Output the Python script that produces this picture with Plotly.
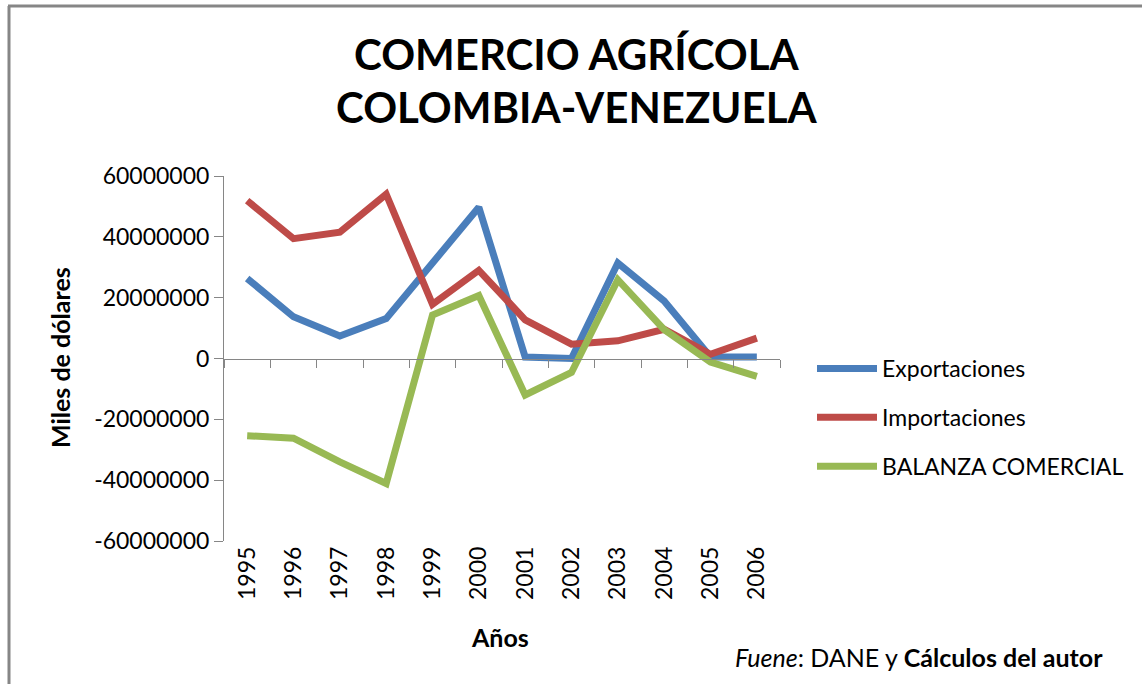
import plotly.graph_objects as go

years = ["1995", "1996", "1997", "1998", "1999", "2000", "2001", "2002", "2003", "2004", "2005", "2006"]
exportaciones = [26300000, 13700000, 7400000, 13100000, 31400000, 49700000, 500000, 0, 31400000, 18900000, 500000, 500000]
importaciones = [51900000, 39400000, 41500000, 54000000, 17800000, 29000000, 12700000, 4700000, 5800000, 9600000, 1400000, 6700000]
balanza = [-25400000, -26200000, -34000000, -41100000, 14300000, 20700000, -12000000, -4600000, 25900000, 9500000, -1200000, -5900000]
yticks = [-60000000, -40000000, -20000000, 0, 20000000, 40000000, 60000000]

FONT = "Lato"
AXC = "#868686"

fig = go.Figure()
series = [
    ("Exportaciones", exportaciones, "#4A7EBB"),
    ("Importaciones", importaciones, "#BE4B48"),
    ("BALANZA COMERCIAL", balanza, "#98B954"),
]
for name, vals, col in series:
    fig.add_trace(go.Scatter(x=years, y=vals, mode="lines", name=name,
                             legendgroup=name,
                             line=dict(color=col, width=7)))
# invisible helper trace for the category axis drawn at y = 0
fig.add_trace(go.Scatter(x=years, y=[0] * len(years), xaxis="x2", mode="lines",
                         line=dict(width=0), showlegend=False, hoverinfo="skip",
                         opacity=0))

L, R, T, B = 224, 780, 176, 541
W, H = 1142, 684
pw, ph = R - L, B - T

def px(x):
    return (x - L) / pw

def py(y):
    return (B - y) / ph

fig.update_layout(
    width=W, height=H,
    margin=dict(l=L, r=W - R, t=T, b=H - B, pad=0),
    paper_bgcolor="white", plot_bgcolor="white",
    font=dict(family=FONT, size=23, color="#000000"),
    showlegend=True,
    legend=dict(x=px(812), y=py(347), xanchor="left", yanchor="top",
                font=dict(size=23, family=FONT), tracegroupgap=16,
                bgcolor="rgba(0,0,0,0)", itemwidth=60),
    xaxis=dict(type="category", categoryorder="array", categoryarray=years,
               range=[-0.5, 11.5], showline=False, ticks="", showgrid=False,
               zeroline=False, tickangle=-90, tickfont=dict(size=23, family=FONT)),
    xaxis2=dict(type="category", categoryorder="array", categoryarray=years,
                range=[-0.5, 11.5], overlaying="x", anchor="free", position=0.5,
                side="bottom", showline=True, linecolor=AXC, linewidth=1,
                ticks="outside", tickson="boundaries", ticklen=8, tickcolor=AXC,
                showticklabels=False, showgrid=False, zeroline=False),
    yaxis=dict(range=[-60000000, 60000000], tickvals=yticks,
               ticktext=[str(v) for v in yticks], showline=True, linecolor=AXC,
               linewidth=1, ticks="outside", ticklen=9, tickcolor=AXC,
               showgrid=False, zeroline=False, tickfont=dict(size=23, family=FONT)),
)

anns = [
    dict(text="<b>COMERCIO AGRÍCOLA</b>", x=px(577), y=py(54), size=42),
    dict(text="<b>COLOMBIA-VENEZUELA</b>", x=px(576), y=py(107), size=42),
]
for a in anns:
    fig.add_annotation(text=a["text"], x=a["x"], y=a["y"], xref="paper", yref="paper",
                       xanchor="center", yanchor="middle", showarrow=False,
                       font=dict(size=a["size"], family=FONT, color="#000"))

fig.add_annotation(text="<b>Miles de dólares</b>", x=px(60), y=py(358), xref="paper",
                   yref="paper", xanchor="center", yanchor="middle", textangle=-90,
                   showarrow=False, font=dict(size=25, family=FONT, color="#000"))
fig.add_annotation(text="<b>Años</b>", x=px(500), y=py(637), xref="paper", yref="paper",
                   xanchor="center", yanchor="middle", showarrow=False,
                   font=dict(size=25, family=FONT, color="#000"))
fig.add_annotation(text="<i>Fuene</i>: DANE y <b>Cálculos del autor</b>", x=px(1105),
                   y=py(657), xref="paper", yref="paper", xanchor="right",
                   yanchor="middle", showarrow=False,
                   font=dict(size=25, family=FONT, color="#000"))

# outer chart frame (only top and left edges are visible in the reference)
fig.add_shape(type="line", xref="paper", yref="paper",
              x0=px(8), x1=px(W), y0=py(6), y1=py(6),
              line=dict(color=AXC, width=3), layer="below")
fig.add_shape(type="line", xref="paper", yref="paper",
              x0=px(9), x1=px(9), y0=py(6), y1=py(H),
              line=dict(color=AXC, width=3), layer="below")

fig.write_html("out.html",
               config={"displayModeBar": False},
               post_script="document.body.style.margin='0';document.body.style.overflow='hidden';")
